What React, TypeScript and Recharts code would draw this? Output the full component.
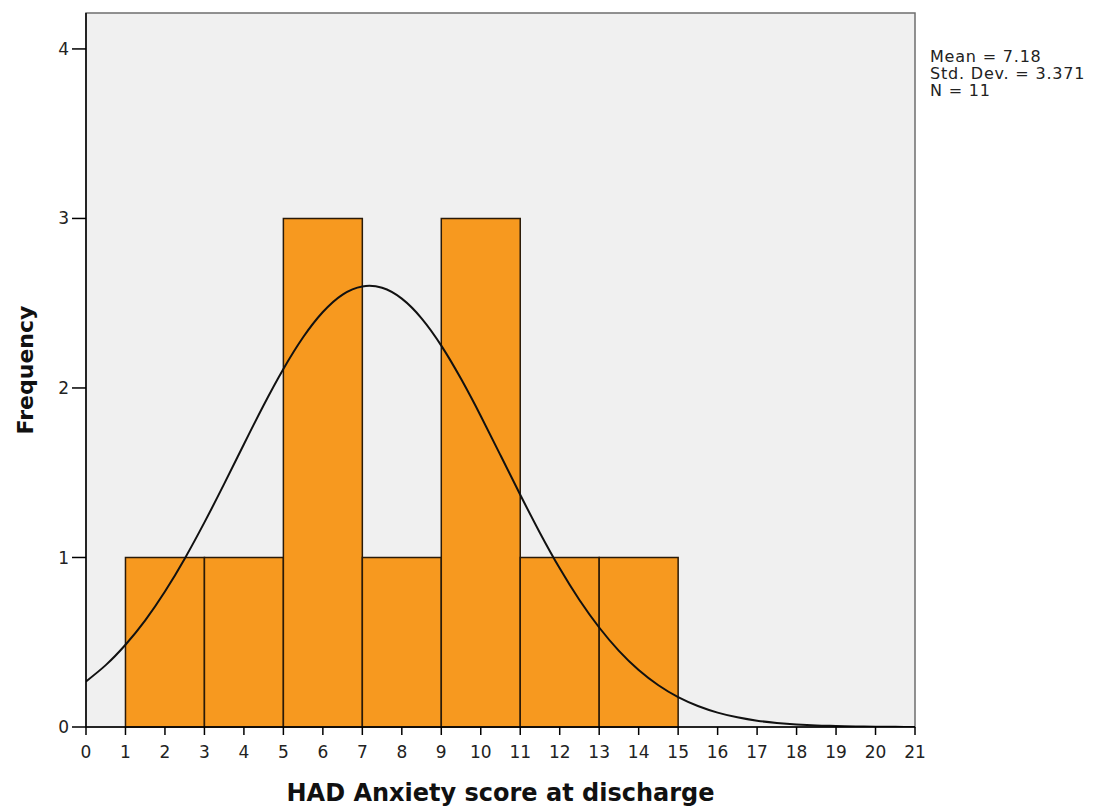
import { ComposedChart, Line, XAxis, YAxis, ReferenceArea, Label } from "recharts";

// histogram bins (score ranges) and their frequencies
const binStart = [1, 3, 5, 7, 9, 11, 13];
const binEnd = [3, 5, 7, 9, 11, 13, 15];
const counts = [1, 1, 3, 1, 3, 1, 1];

// fitted normal curve, sampled every half point of the score
const curveX = [
  0, 0.5, 1, 1.5, 2, 2.5, 3, 3.5, 4, 4.5, 5, 5.5, 6, 6.5, 7, 7.5, 8, 8.5, 9, 9.5, 10,
  10.5, 11, 11.5, 12, 12.5, 13, 13.5, 14, 14.5, 15, 15.5, 16, 16.5, 17, 17.5, 18, 18.5,
  19, 19.5, 20, 20.5, 21,
];
const curveY = [
  0.269, 0.365, 0.485, 0.629, 0.799, 0.993, 1.207, 1.434, 1.668, 1.898, 2.112, 2.299, 2.448,
  2.551, 2.599, 2.591, 2.527, 2.411, 2.25, 2.054, 1.835, 1.603, 1.37, 1.145, 0.936, 0.749,
  0.587, 0.449, 0.336, 0.246, 0.176, 0.124, 0.085, 0.057, 0.037, 0.024, 0.015, 0.009, 0.006,
  0.003, 0.002, 0.001, 0.0005,
];

const xTicks = [0, 1, 2, 3, 4, 5, 6, 7, 8, 9, 10, 11, 12, 13, 14, 15, 16, 17, 18, 19, 20, 21];
const yTicks = [0, 1, 2, 3, 4];
const statLines = ["Mean = 7.18", "Std. Dev. = 3.371", "N = 11"];

const Y_MAX = 4.212;
const FONT = "'DejaVu Sans', Verdana, sans-serif";

const curve = curveX.map((x, i) => ({ x, y: curveY[i] }));

export default function App() {
  return (
    <div style={{ position: "relative", width: 1083, height: 800, fontFamily: FONT }}>
      <ComposedChart width={1083} height={800} data={curve}
        margin={{ top: 5, right: 176, bottom: 0, left: 0 }}>
        <ReferenceArea x1={0} x2={21} y1={0} y2={Y_MAX} fill="#f0f0f0" fillOpacity={1}
          stroke="#6e6e6e" strokeWidth={1.5} ifOverflow="visible" />
        {counts.map((c, i) => (
          <ReferenceArea key={i} x1={binStart[i]} x2={binEnd[i]} y1={0} y2={c}
            fill="#f7991f" fillOpacity={1} stroke="#2a1a08" strokeWidth={1.5} />
        ))}
        <XAxis type="number" dataKey="x" domain={[0, 21]} ticks={xTicks} interval={0}
          height={81} tickSize={8} tickMargin={11} allowDataOverflow
          axisLine={{ stroke: "#000", strokeWidth: 1.5 }} tickLine={{ stroke: "#000", strokeWidth: 1.5 }}
          tick={{ fontSize: 17, fill: "#222", fontFamily: FONT }}>
          <Label value="HAD Anxiety score at discharge" position="insideBottom" offset={7}
            style={{ fontSize: 24, fontWeight: "bold", fill: "#111", fontFamily: FONT }} />
        </XAxis>
        <YAxis type="number" domain={[0, Y_MAX]} ticks={yTicks} width={78} tickSize={14}
          tickMargin={3} allowDataOverflow
          axisLine={{ stroke: "#000", strokeWidth: 1.5 }} tickLine={{ stroke: "#000", strokeWidth: 1.5 }}
          tick={{ fontSize: 17, fill: "#222", fontFamily: FONT }}>
          <Label value="Frequency" angle={-90} position="insideLeft" offset={17}
            style={{ textAnchor: "middle", fontSize: 22, fontWeight: "bold", fill: "#111", fontFamily: FONT }} />
        </YAxis>
        <Line type="natural" dataKey="y" stroke="#111" strokeWidth={2} dot={false}
          activeDot={false} isAnimationActive={false} />
      </ComposedChart>
      <div style={{ position: "absolute", left: 922, top: 40, fontSize: 16, lineHeight: "17px",
        letterSpacing: "0.8px", whiteSpace: "nowrap", color: "#222" }}>
        {statLines.map((s) => <div key={s}>{s}</div>)}
      </div>
    </div>
  );
}
